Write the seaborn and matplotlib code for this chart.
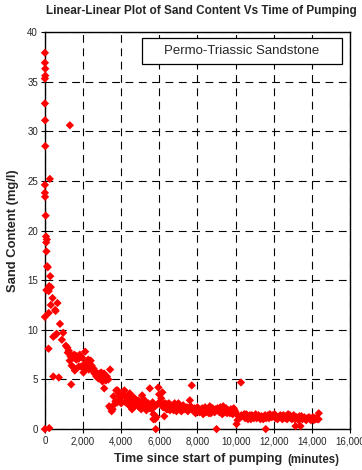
import pandas as pd
import matplotlib.pyplot as plt
import seaborn as sns
from matplotlib.patches import Rectangle
from matplotlib.ticker import FuncFormatter

# time since start of pumping (minutes) and sand content (mg/l)
# early part of the test (first ~3,500 minutes)
time_early = [0, 0, 20, 20, 0, 0, 10, 1310, 20, 260, 0, 0, 10, 40, 60, 100, 70, 80, 120, 150,
              280, 225, 310, 80, 200, 400, 310, 660, 540, 0, 200, 560, 790, 960, 890, 440, 560, 620, 190, 1100,
              1180, 1250, 1330, 1350, 1500, 1530, 1620, 1700, 1780, 1830, 2110, 2270, 2350, 2400, 1400, 1500, 1570, 1780, 1900, 2020,
              2100, 2200, 2300, 2500, 2600, 2700, 2850, 2950, 3010, 3100, 3150, 3250, 3330, 3020, 3420, 3110, 1380, 440, 730, 0,
              230, 2050, 2150, 2450, 2550, 2650, 2750, 2800, 2900, 3050, 3200, 1650, 1950, 1200, 1300]
sand_early = [37.9, 36.9, 36.3, 35.6, 35.3, 32.8, 31.1, 30.6, 28.5, 25.2, 24.6, 23.8, 23.4, 21.5, 19.4, 19.1, 18.8, 17.9, 16.4, 16.3,
              15.4, 14.4, 14.3, 14.0, 13.9, 13.2, 12.5, 12.7, 12.0, 11.3, 11.7, 11.9, 10.6, 9.7, 9.0, 9.3, 9.5, 9.6, 8.1, 8.4,
              8.2, 7.9, 7.6, 7.3, 7.2, 7.5, 7.4, 7.3, 7.1, 7.5, 7.8, 7.0, 6.8, 6.9, 6.4, 6.2, 5.9, 6.3, 6.3, 5.7,
              6.0, 6.3, 6.0, 5.9, 5.6, 5.3, 5.6, 5.7, 5.2, 5.6, 5.2, 5.3, 5.0, 4.8, 6.0, 4.1, 4.5, 5.3, 5.2, 0.0,
              0.1, 6.5, 6.7, 6.4, 6.1, 5.8, 5.5, 5.1, 5.3, 5.5, 4.9, 7.0, 7.2, 7.7, 6.9]

# middle part (~3,400 to ~7,700 minutes)
time_mid = [3370, 3450, 3550, 3500, 3600, 3700, 3740, 3810, 3800, 3880, 3950, 4170, 4100, 4220, 4300, 4380, 4490, 4570, 4650, 4800,
            4850, 4900, 5020, 5100, 5180, 5280, 5370, 5420, 5460, 5500, 5690, 5780, 5780, 5850, 5815, 5950, 5990, 6160, 6100, 6200,
            6260, 6300, 6400, 6500, 6380, 6560, 6650, 6700, 6800, 6900, 7000, 6960, 7100, 7200, 7300, 7600, 7700, 3650, 3900, 4000,
            4050, 4250, 4400, 4450, 4600, 4700, 4750, 4950, 5050, 5150, 5250, 5320, 5550, 5600, 5650, 5700, 5900, 6050, 6150, 6450,
            6600, 6750, 6850, 7050, 7150, 7250, 7350, 7450, 7500, 7550, 7650]
sand_mid = [2.3, 2.1, 2.0, 1.8, 3.3, 2.8, 3.9, 3.9, 2.7, 3.3, 2.9, 3.9, 3.5, 2.7, 3.1, 2.8, 3.2, 2.0, 3.2, 2.5,
            2.4, 2.9, 2.6, 3.4, 3.0, 2.5, 2.2, 2.6, 2.1, 4.1, 1.0, 1.0, 2.3, 1.2, 0.0, 4.2, 3.5, 3.7, 3.1, 2.2,
            1.3, 2.6, 2.5, 2.6, 2.0, 1.9, 2.1, 2.2, 2.6, 1.8, 2.6, 2.0, 2.3, 1.9, 2.1, 2.9, 4.4, 2.5, 3.6, 2.6,
            3.3, 3.3, 2.4, 3.6, 2.7, 2.3, 3.0, 2.2, 2.0, 2.4, 2.8, 1.9, 2.4, 2.0, 2.7, 1.5, 2.5, 2.8, 2.4, 2.0,
            2.4, 1.9, 2.3, 2.2, 1.8, 2.4, 2.0, 2.2, 1.8, 2.1, 2.3]

# late part (~7,700 minutes to the end)
time_late = [7760, 7850, 7950, 8050, 8150, 8250, 8350, 8450, 8550, 8650, 8750, 8850, 8950, 9050, 9150, 9250, 9350, 9450, 9550, 9650,
             9750, 9850, 9950, 10050, 10100, 10150, 10280, 9000, 8700, 9300, 7900, 8300, 7800, 8000, 8100, 8200, 8400, 8500, 8600, 8800,
             8900, 9100, 9200, 9400, 9500, 9600, 9700, 9800, 9900, 10000, 10200, 10300, 10400, 10500, 10600, 10700, 10800, 10900, 11000, 11100,
             11200, 11300, 11400, 11500, 11600, 11700, 11800, 11900, 12000, 12100, 12200, 12300, 12400, 12500, 12600, 12700, 12800, 12900, 13000, 13100,
             13200, 13300, 13400, 13500, 13600, 13700, 13800, 13900, 14000, 14100, 14200, 14300, 14360, 11580, 13140, 13400, 10450, 10750, 11050, 11350,
             11650, 11950, 12250, 12550, 12850, 13150, 13450, 13750, 14050, 14250, 10550, 10650, 10850, 10950, 11150, 11250, 11450, 11550, 11750, 11850,
             12050, 12150, 12350, 12450, 12650, 12750, 12950, 13050, 13250, 13350, 13550, 13650, 13850, 13950, 14150, 14350]
sand_late = [2.0, 2.1, 1.9, 2.0, 1.8, 2.1, 1.9, 1.7, 2.0, 2.3, 1.9, 1.8, 2.0, 2.1, 1.7, 2.0, 2.3, 1.9, 1.6, 1.8,
             2.0, 1.5, 1.9, 0.5, 0.9, 1.3, 4.7, 0.0, 1.6, 1.5, 1.6, 1.5, 1.8, 2.2, 1.7, 2.0, 2.2, 1.8, 1.6, 2.1,
             1.7, 1.9, 2.2, 1.7, 2.1, 1.9, 1.6, 1.8, 2.1, 1.7, 1.1, 1.4, 1.3, 1.1, 1.4, 1.2, 1.0, 1.3, 1.2, 1.1,
             1.4, 1.0, 1.2, 1.3, 1.1, 1.4, 1.5, 1.2, 1.3, 1.1, 1.0, 1.3, 1.2, 1.4, 1.1, 1.0, 1.2, 1.1, 1.3, 1.0,
             1.2, 0.9, 1.1, 1.0, 1.2, 0.9, 1.1, 1.0, 1.0, 0.9, 1.0, 1.0, 1.6, 0.0, 0.3, 0.3, 1.5, 1.4, 1.5, 1.3,
             1.2, 1.4, 1.2, 1.3, 1.4, 1.2, 1.3, 1.1, 1.2, 1.1, 1.5, 1.0, 1.4, 1.1, 1.3, 1.2, 1.0, 1.4, 1.1, 1.3,
             1.5, 1.2, 1.4, 1.0, 1.3, 1.5, 1.0, 1.4, 1.1, 1.3, 1.1, 1.0, 1.2, 0.9, 1.1, 1.0]

df = pd.DataFrame({'time': time_early + time_mid + time_late,
                   'sand': sand_early + sand_mid + sand_late})

sns.set_theme(style="ticks")
plt.rcParams['font.family'] = ['Liberation Sans', 'DejaVu Sans']

fig = plt.figure(figsize=(3.62, 4.70), dpi=100)
ax = fig.add_axes([0.124, 0.087, 0.843, 0.845])

sns.scatterplot(data=df, x='time', y='sand', ax=ax, marker='D', s=18,
                color='#ff0000', edgecolor='none', linewidth=0, zorder=3, clip_on=False)

ax.set_xlim(0, 16000)
ax.set_ylim(0, 40)
ax.set_xticks(range(0, 16001, 2000))
ax.set_yticks(range(0, 41, 5))
ax.xaxis.set_major_formatter(FuncFormatter(lambda v, p: f'{int(v):,}'))
ax.tick_params(labelsize=7, length=3, width=0.8, color='black', pad=2)
ax.grid(True, color='black', linestyle=(0, (7, 5)), linewidth=0.8)
for sp in ax.spines.values():
    sp.set_color('black')
    sp.set_linewidth(1.0)
    sp.set_visible(True)
ax.set_xlabel('')
ax.set_ylabel('Sand Content (mg/l)', fontsize=9.4, fontweight='bold', labelpad=6)

# annotation box
ax.add_patch(Rectangle((0.318, 0.919), 0.656, 0.066, transform=ax.transAxes,
                       facecolor='white', edgecolor='black', linewidth=0.9, zorder=4))
ax.text(0.646, 0.952, 'Permo-Triassic Sandstone', transform=ax.transAxes,
        ha='center', va='center', fontsize=9.5, zorder=5)

fig.text(0.555, 0.977, 'Linear-Linear Plot of Sand Content Vs Time of Pumping',
         ha='center', va='center', fontsize=8.5, fontweight='bold')
fig.text(0.779, 0.023, 'Time since start of pumping', ha='right', va='center',
         fontsize=9.1, fontweight='bold')
fig.text(0.793, 0.021, '(minutes)', ha='left', va='center',
         fontsize=8.3, fontweight='bold')

fig.savefig('out.png', dpi=100)
